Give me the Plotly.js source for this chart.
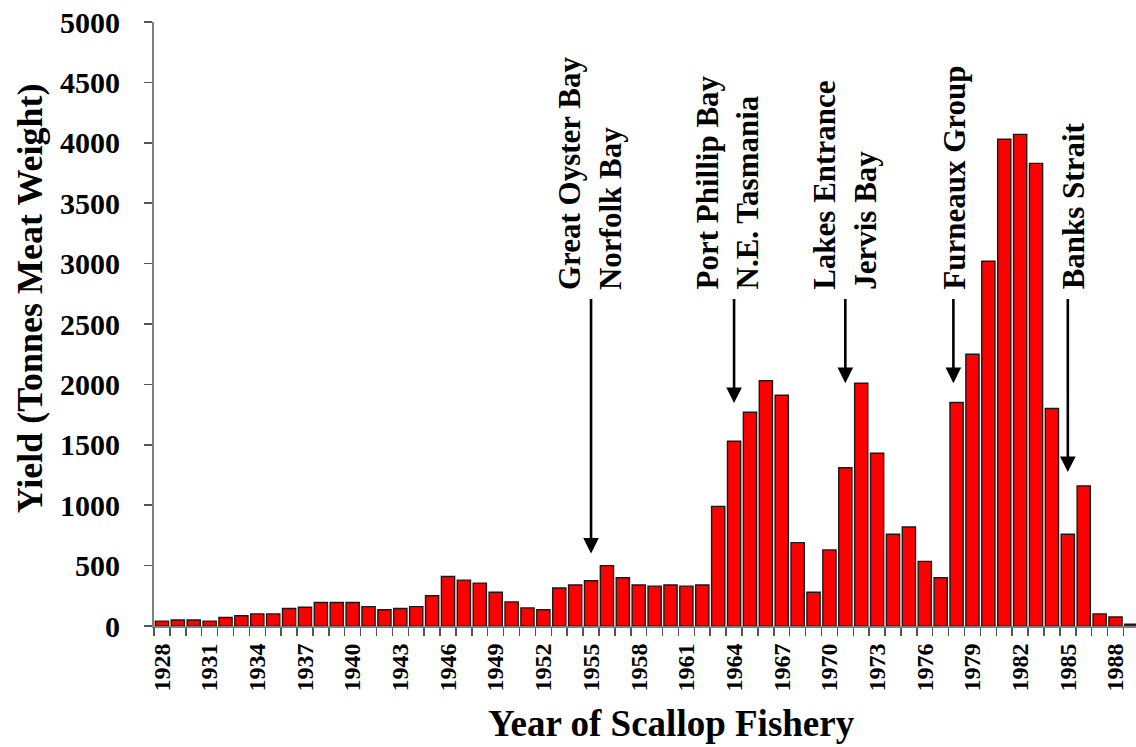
<!DOCTYPE html>
<html>
<head>
<meta charset="utf-8">
<script src="https://cdn.plot.ly/plotly-3.0.1.min.js"></script>
<style>
  html, body { margin: 0; padding: 0; background: #fff; }
  #chart { width: 1136px; height: 747px; }
</style>
</head>
<body>
<div id="chart"></div>
<script>
// ---- data ----
const years = [1928,1929,1930,1931,1932,1933,1934,1935,1936,1937,1938,1939,1940,1941,1942,1943,1944,1945,1946,1947,1948,1949,1950,1951,1952,1953,1954,1955,1956,1957,1958,1959,1960,1961,1962,1963,1964,1965,1966,1967,1968,1969,1970,1971,1972,1973,1974,1975,1976,1977,1978,1979,1980,1981,1982,1983,1984,1985,1986,1987,1988,1989];
const yields = [40,50,50,40,70,85,100,100,145,155,195,195,195,160,135,145,160,250,410,380,355,280,200,150,135,315,340,375,500,400,340,330,340,330,340,990,1530,1770,2030,1910,690,280,630,1310,2010,1430,760,820,535,400,1850,2250,3020,4030,4070,3830,1800,760,1160,100,75,15];
const xTickYears = [1928,1931,1934,1937,1940,1943,1946,1949,1952,1955,1958,1961,1964,1967,1970,1973,1976,1979,1982,1985,1988];
const xTickText = ["1928","1931","1934","1937","1940","1943","1946","1949","1952","1955","1958","1961","1964","1967","1970","1973","1976","1979","1982","1985","1988"];
const yTickVals = [0,500,1000,1500,2000,2500,3000,3500,4000,4500,5000];
const yTickText = ["0","500","1000","1500","2000","2500","3000","3500","4000","4500","5000"];

// fishery openings (label, arrow year, arrow tip value)
const eventLabels = ["Great Oyster Bay<br>Norfolk Bay", "Port Phillip Bay<br>N.E. Tasmania", "Lakes Entrance<br>Jervis Bay", "Furneaux Group", "Banks Strait"];
const eventYears = [1955, 1964, 1971, 1977.8, 1985];
const eventTips = [600, 1845, 2010, 2010, 1275];

// ---- layout helpers (positions/styles) ----
const FONT = 'Liberation Serif, Tinos, Times New Roman, DejaVu Serif, serif';
const labelX = [1954.95, 1963.6, 1970.95, 1977.9, 1985.33];
const arrowTop = 2720;
const labelBottom = 2775;

const annotations = [];
for (let i = 0; i < eventLabels.length; i++) {
  annotations.push({
    xref: 'x', yref: 'y', x: eventYears[i], y: eventTips[i],
    axref: 'x', ayref: 'y', ax: eventYears[i], ay: arrowTop,
    text: '', showarrow: true, arrowhead: 2, arrowsize: 1.2, arrowwidth: 2.6,
    arrowcolor: '#000', standoff: 0, startstandoff: 0
  });
  annotations.push({
    xref: 'x', yref: 'y', x: labelX[i], y: labelBottom,
    text: '<b>' + eventLabels[i].split('<br>').join('</b><br><b>') + '</b>',
    textangle: -90, showarrow: false, align: 'left',
    xanchor: 'center', yanchor: 'bottom', borderpad: 0,
    font: { family: FONT, size: 31, color: '#000' }
  });
}
annotations.push({
  xref: 'paper', yref: 'paper', x: -0.126, y: 0.543,
  text: '<b>Yield (Tonnes Meat Weight)</b>', textangle: -90, showarrow: false,
  xanchor: 'center', yanchor: 'middle',
  font: { family: FONT, size: 36, color: '#000' }
});
annotations.push({
  xref: 'paper', yref: 'paper', x: 0.5265, y: -0.161,
  text: '<b>Year of Scallop Fishery</b>', showarrow: false,
  xanchor: 'center', yanchor: 'middle', borderpad: 0,
  font: { family: FONT, size: 37, color: '#000' }
});

const trace = {
  type: 'bar', x: years, y: yields, width: 0.83,
  marker: { color: '#ff0000', line: { color: '#1a1a1a', width: 1.4 } },
  hoverinfo: 'x+y'
};

const layout = {
  width: 1136, height: 747,
  margin: { l: 154, r: 0, t: 22, b: 121 },
  paper_bgcolor: '#fff', plot_bgcolor: '#fff',
  showlegend: false,
  xaxis: {
    range: [1927.5, 1989.29], showgrid: false, zeroline: false,
    showline: true, linecolor: '#7f7f7f', linewidth: 2,
    tickmode: 'array', tickvals: xTickYears, ticktext: xTickText,
    tickangle: -90, ticks: '', ticklabelstandoff: 6,
    tickfont: { family: FONT, size: 24, color: '#000', weight: 'bold' },
    minor: { tickmode: 'linear', tick0: 1927.5, dtick: 1, ticks: 'outside', ticklen: 8, tickwidth: 1.5, tickcolor: '#555', showgrid: false }
  },
  yaxis: {
    range: [0, 5000], showgrid: false, zeroline: false,
    showline: true, linecolor: '#7f7f7f', linewidth: 2,
    tickmode: 'array', tickvals: yTickVals, ticktext: yTickText,
    ticks: 'outside', ticklen: 8, tickwidth: 1.5, tickcolor: '#555',
    ticklabelstandoff: 18,
    tickfont: { family: FONT, size: 30, color: '#000', weight: 'bold' }
  },
  annotations: annotations
};

Plotly.newPlot('chart', [trace], layout, { displayModeBar: false, staticPlot: true });
</script>
</body>
</html>
